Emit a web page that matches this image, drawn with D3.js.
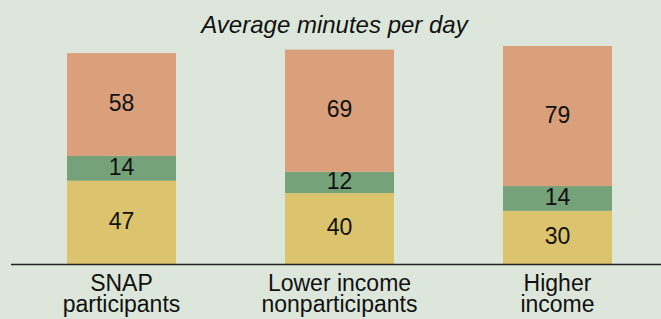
<!DOCTYPE html>
<html>
<head>
<meta charset="utf-8">
<script src="https://cdn.jsdelivr.net/npm/d3@7"></script>
<style>
html, body { margin: 0; padding: 0; background: #dce6db; }
svg { display: block; }
text { font-family: "Liberation Sans", Arial, Helvetica, sans-serif; fill: #111; }
</style>
</head>
<body>
<svg id="chart" width="661" height="319"></svg>
<script>
const categories = [["SNAP", "participants"], ["Lower income", "nonparticipants"], ["Higher", "income"]];
const seriesNames = ["bottom", "middle", "top"];
const bottomValues = [47, 40, 30];
const middleValues = [14, 12, 14];
const topValues = [58, 69, 79];
const titleText = "Average minutes per day";
const colors = ["#dcc36d", "#76a27a", "#d9a07b"];

const svg = d3.select("#chart");
const W = 661, H = 319;
svg.append("rect").attr("width", W).attr("height", H).attr("fill", "#dce6db");

const keys = categories.map(c => c.join(" "));
const rows = keys.map((k, i) => ({ key: k, bottom: bottomValues[i], middle: middleValues[i], top: topValues[i] }));
const stack = d3.stack().keys(seriesNames)(rows);

const x = d3.scaleBand().domain(keys).range([12.5, 666.5]).paddingInner(0.5).paddingOuter(0.25);
const y = d3.scaleLinear().domain([0, 120]).range([264, 264 - 1.772 * 120]);

const fs = 23;
stack.forEach((layer, li) => {
  const g = svg.append("g");
  g.selectAll("rect").data(layer).join("rect")
    .attr("x", d => x(d.data.key))
    .attr("width", x.bandwidth())
    .attr("y", d => y(d[1]))
    .attr("height", d => y(d[0]) - y(d[1]))
    .attr("fill", colors[li]);
  g.selectAll("text").data(layer).join("text")
    .attr("x", d => x(d.data.key) + x.bandwidth() / 2)
    .attr("y", d => (y(d[0]) + y(d[1])) / 2 + fs * 0.358 - 1.5)
    .attr("text-anchor", "middle")
    .style("font-size", fs + "px")
    .text(d => d[1] - d[0]);
});

// baseline axis
const axis = d3.axisBottom(x).tickSize(0).tickFormat("");
const ag = svg.append("g").attr("transform", `translate(0,${y(0)})`).call(axis);
ag.select(".domain").attr("d", `M11,0.5H661`).attr("stroke", "#222").attr("stroke-width", 1.5);

// category labels
categories.forEach((lines, i) => {
  const t = svg.append("text")
    .attr("text-anchor", "middle")
    .style("font-size", fs + "px");
  lines.forEach((ln, j) => {
    t.append("tspan")
      .attr("x", x(keys[i]) + x.bandwidth() / 2)
      .attr("y", 291 + j * 21)
      .text(ln);
  });
});

svg.append("text")
  .attr("x", 334.5)
  .attr("y", 33)
  .attr("text-anchor", "middle")
  .style("font-size", "24px")
  .style("font-style", "italic")
  .text(titleText);
</script>
</body>
</html>
